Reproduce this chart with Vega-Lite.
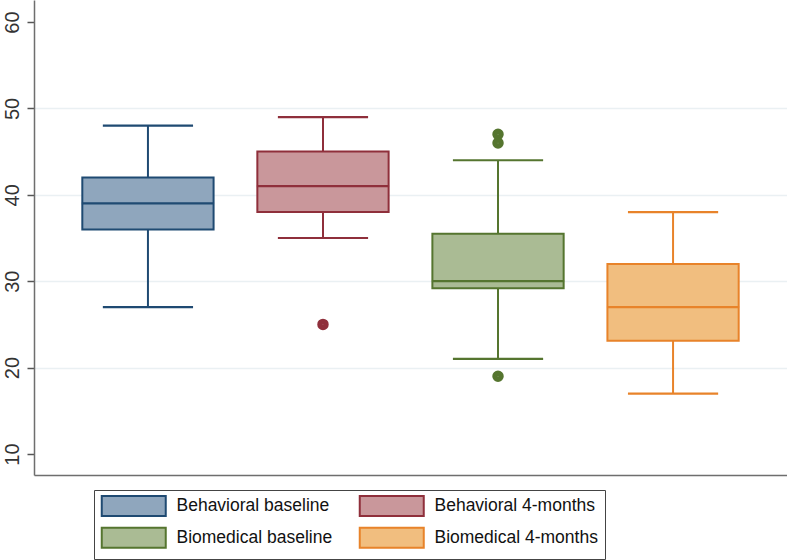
{
  "$schema": "https://vega.github.io/schema/vega-lite/v6.json",
  "autosize": {"type": "none"},
  "width": 753,
  "height": 475,
  "padding": {"left": 34, "top": 0, "right": 0, "bottom": 85},
  "background": "white",
  "config": {
    "view": {"stroke": null},
    "font": "Liberation Sans"
  },
  "datasets": {
    "boxes": [
      {"group": "Behavioral baseline", "lo": 27, "q1": 36, "med": 39, "q3": 42, "hi": 48},
      {"group": "Behavioral 4-months", "lo": 35, "q1": 38, "med": 41, "q3": 45, "hi": 49},
      {"group": "Biomedical baseline", "lo": 21, "q1": 29.2, "med": 30, "q3": 35.5, "hi": 44},
      {"group": "Biomedical 4-months", "lo": 17, "q1": 23.1, "med": 27, "q3": 32, "hi": 38}
    ],
    "outliers": [
      {"group": "Behavioral 4-months", "v": 25},
      {"group": "Biomedical baseline", "v": 47},
      {"group": "Biomedical baseline", "v": 46},
      {"group": "Biomedical baseline", "v": 19}
    ]
  },
  "encoding": {
    "x": {
      "field": "group", "type": "nominal", "sort": null,
      "scale": {"paddingInner": 0.25, "paddingOuter": 0.276},
      "axis": {"title": null, "labels": false, "ticks": false, "domainColor": "#6e6e6e", "domainWidth": 1.5, "grid": false}
    }
  },
  "layer": [
    {
      "data": {"name": "boxes"},
      "mark": {"type": "rule", "strokeWidth": 2, "opacity": 1},
      "encoding": {
        "y": {
          "field": "lo", "type": "quantitative",
          "scale": {"domain": [7.57, 62.55], "nice": false, "zero": false},
          "axis": {
            "title": null, "values": [10, 20, 30, 40, 50, 60],
            "labelAngle": -90, "labelAlign": "center", "labelBaseline": "bottom",
            "labelFontSize": 20, "labelColor": "#333", "labelPadding": 5,
            "tickSize": 7, "tickColor": "#555", "tickWidth": 1.5,
            "domainColor": "#6e6e6e", "domainWidth": 1.5,
            "grid": true, "gridColor": "#eaf0f3", "gridWidth": 1.5,
            "gridOpacity": {"condition": {"test": "datum.value == 10 || datum.value == 60", "value": 0}, "value": 1}
          }
        },
        "y2": {"field": "hi"},
        "stroke": {"field": "group", "type": "nominal"}
      }
    },
    {
      "data": {"name": "boxes"},
      "mark": {"type": "tick", "filled": false, "size": 88, "thickness": 0.01, "strokeWidth": 2.2, "opacity": 1},
      "encoding": {
        "y": {"field": "hi", "type": "quantitative"},
        "stroke": {"field": "group", "type": "nominal"}
      }
    },
    {
      "data": {"name": "boxes"},
      "mark": {"type": "tick", "filled": false, "size": 88, "thickness": 0.01, "strokeWidth": 2.2, "opacity": 1},
      "encoding": {
        "y": {"field": "lo", "type": "quantitative"},
        "stroke": {"field": "group", "type": "nominal"}
      }
    },
    {
      "data": {"name": "boxes"},
      "mark": {"type": "bar", "strokeWidth": 2, "opacity": 1},
      "encoding": {
        "y": {"field": "q1", "type": "quantitative"},
        "y2": {"field": "q3"},
        "fill": {
          "field": "group", "type": "nominal",
          "scale": {
            "domain": ["Behavioral baseline", "Behavioral 4-months", "Biomedical baseline", "Biomedical 4-months"],
            "range": ["#8fa6bd", "#c9979b", "#aabb94", "#f1be7f"]
          },
          "legend": {
            "title": null, "orient": "none", "legendX": 60, "legendY": 490,
            "columns": 2, "direction": "horizontal",
            "symbolType": "M-1.6,-2H11.2V2H-1.6Z", "symbolSize": 100, "symbolStrokeWidth": 2, "symbolOpacity": 1,
            "labelFontSize": 17.5, "labelFont": "Liberation Sans", "labelColor": "#111", "labelOffset": 58,
            "labelLimit": 300,
            "columnPadding": 22, "rowPadding": 3, "padding": 7,
            "strokeColor": "#444", "fillColor": "white",
            "encode": {"symbols": {"update": {"opacity": {"value": 1}}}}
          }
        },
        "stroke": {
          "field": "group", "type": "nominal",
          "scale": {
            "domain": ["Behavioral baseline", "Behavioral 4-months", "Biomedical baseline", "Biomedical 4-months"],
            "range": ["#1f4a72", "#8f2f3b", "#55752f", "#e8832a"]
          },
          "legend": {
            "title": null, "orient": "none", "legendX": 60, "legendY": 490,
            "columns": 2, "direction": "horizontal",
            "symbolType": "M-1.6,-2H11.2V2H-1.6Z", "symbolSize": 100, "symbolStrokeWidth": 2, "symbolOpacity": 1,
            "labelFontSize": 17.5, "labelFont": "Liberation Sans", "labelColor": "#111", "labelOffset": 58,
            "labelLimit": 300,
            "columnPadding": 22, "rowPadding": 3, "padding": 7,
            "strokeColor": "#444", "fillColor": "white",
            "encode": {"symbols": {"update": {"opacity": {"value": 1}}}}
          }
        }
      }
    },
    {
      "data": {"name": "boxes"},
      "mark": {"type": "tick", "filled": false, "thickness": 0.01, "strokeWidth": 2.2, "size": 130, "opacity": 1},
      "encoding": {
        "y": {"field": "med", "type": "quantitative"},
        "stroke": {"field": "group", "type": "nominal"}
      }
    },
    {
      "data": {"name": "outliers"},
      "mark": {"type": "point", "filled": false, "shape": "circle", "size": 30, "strokeWidth": 6, "opacity": 1},
      "encoding": {
        "y": {"field": "v", "type": "quantitative"},
        "stroke": {"field": "group", "type": "nominal"}
      }
    }
  ]
}
